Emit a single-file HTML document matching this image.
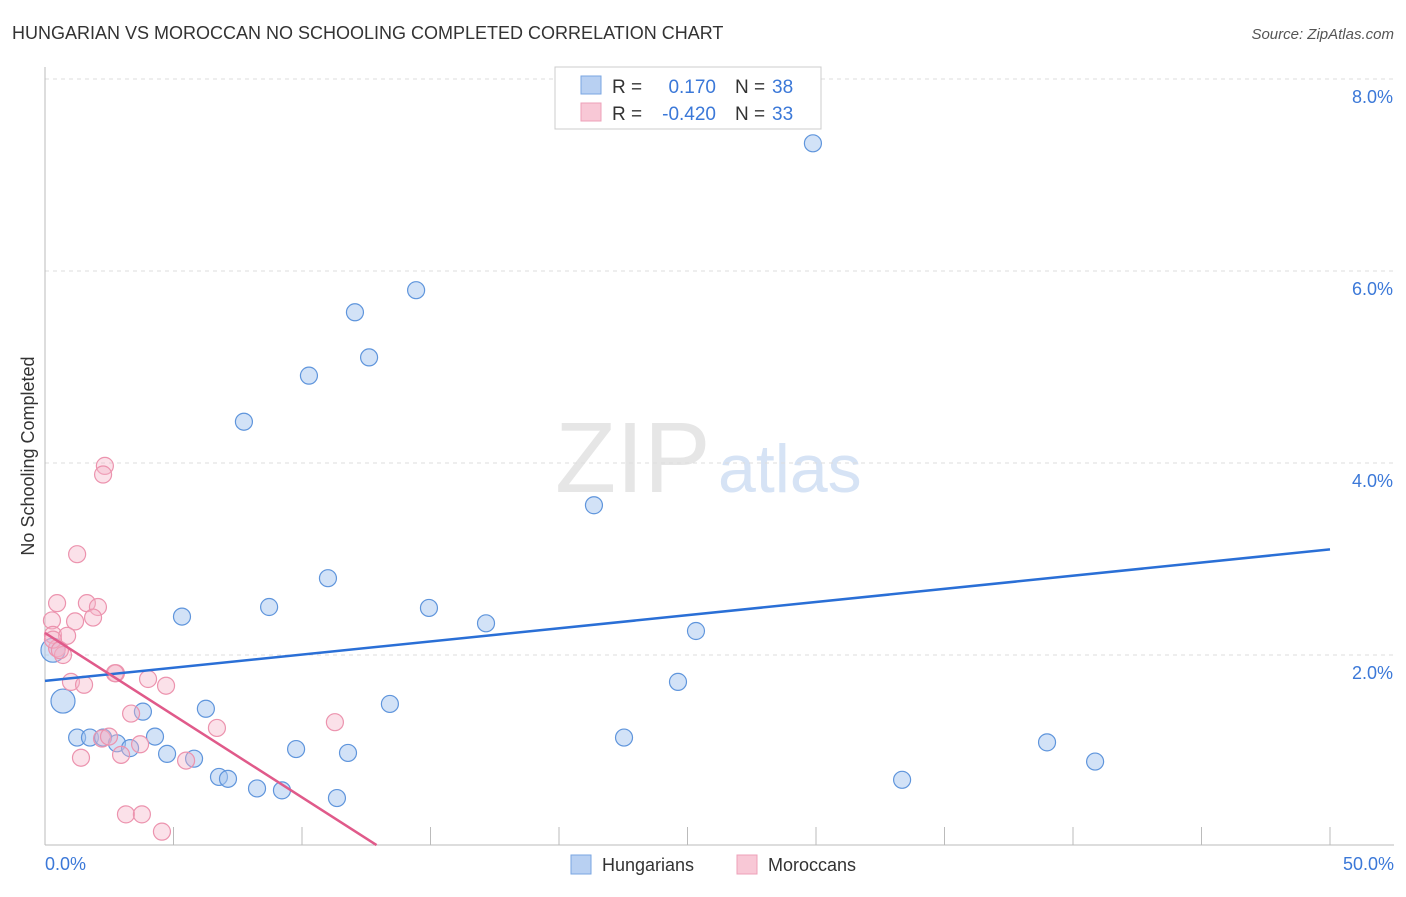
<!DOCTYPE html>
<html><head><meta charset="utf-8"><style>
body{margin:0;background:#fff;font-family:"Liberation Sans",sans-serif}
svg text{font-family:"Liberation Sans",sans-serif}
</style></head><body>
<svg width="1406" height="892" viewBox="0 0 1406 892">
<text x="12" y="39" font-size="18" fill="#333">HUNGARIAN VS MOROCCAN NO SCHOOLING COMPLETED CORRELATION CHART</text>
<text x="1394" y="39" font-size="15" fill="#555" font-style="italic" text-anchor="end">Source: ZipAtlas.com</text>
<text x="555" y="492" font-size="100" fill="#e6e6e6" font-family="Liberation Serif">ZIP</text>
<text x="718" y="492" font-size="68" fill="#d6e3f5">atlas</text>
<g id="grid"></g>
<line x1="45" y1="67" x2="45" y2="845" stroke="#bbb"/>
<line x1="45" y1="845" x2="1394" y2="845" stroke="#bbb"/>
<g id="ticks"></g>
<g id="pts"></g>
<g id="lines"></g>
<text transform="translate(34,456) rotate(-90)" font-size="18" fill="#333" text-anchor="middle">No Schooling Completed</text>
<text x="45" y="870" font-size="18" fill="#3b78d8">0.0%</text>
<text x="1394" y="870" font-size="18" fill="#3b78d8" text-anchor="end">50.0%</text>
<g>
<rect x="555" y="67" width="266" height="62" fill="#fff" stroke="#ccc"/>
<rect x="581" y="76" width="20" height="18" fill="#b8d0f2" stroke="#7aa6e2"/>
<rect x="581" y="103" width="20" height="18" fill="#f8c8d6" stroke="#eea0b8"/>
<text x="612" y="93" font-size="19" fill="#333">R = </text><text x="716" y="93" font-size="19" fill="#3b78d8" text-anchor="end">0.170</text>
<text x="735" y="93" font-size="19" fill="#333">N = </text><text x="772" y="93" font-size="19" fill="#3b78d8">38</text>
<text x="612" y="120" font-size="19" fill="#333">R = </text><text x="716" y="120" font-size="19" fill="#3b78d8" text-anchor="end">-0.420</text>
<text x="735" y="120" font-size="19" fill="#333">N = </text><text x="772" y="120" font-size="19" fill="#3b78d8">33</text>
</g>
<g><rect x="571" y="855" width="20" height="19" fill="#b8d0f2" stroke="#7aa6e2"/><text x="602" y="871" font-size="18" fill="#333">Hungarians</text></g>
<g><rect x="737" y="855" width="20" height="19" fill="#f8c8d6" stroke="#eea0b8"/><text x="768" y="871" font-size="18" fill="#333">Moroccans</text></g>
</svg>
<script>
const yTicks=[2,4,6,8];
const yTickLabels=["2.0%","4.0%","6.0%","8.0%"];
const xTicks=[0,5,10,15,20,25,30,35,40,45,50];
const blueX=[29.88,14.44,12.06,12.61,10.27,7.74,21.36,11.01,8.72,14.94,5.33,17.16,25.33,0.31,0.70,24.63,13.42,6.26,3.81,1.25,1.75,2.26,2.80,3.31,4.28,4.75,5.80,9.77,11.79,22.53,38.99,40.86,6.77,7.12,8.25,9.22,11.36,33.35];
const blueY=[7.33,5.80,5.57,5.10,4.91,4.43,3.56,2.80,2.50,2.49,2.40,2.33,2.25,2.05,1.52,1.72,1.49,1.44,1.41,1.14,1.14,1.14,1.08,1.03,1.15,0.97,0.92,1.02,0.98,1.14,1.09,0.89,0.73,0.71,0.61,0.59,0.51,0.70];
const blueBig=[13,14];
const pinkX=[2.33,2.26,1.25,0.47,1.63,2.06,0.27,1.17,1.87,0.31,0.86,0.47,0.70,2.76,4.01,4.71,1.01,1.52,3.35,6.69,11.28,1.40,2.22,2.49,3.70,2.96,5.49,3.15,3.77,4.55,0.31,0.58,2.72];
const pinkY=[3.97,3.88,3.05,2.54,2.54,2.50,2.36,2.35,2.39,2.21,2.20,2.07,2.00,1.81,1.75,1.68,1.72,1.69,1.39,1.24,1.30,0.93,1.13,1.15,1.07,0.96,0.90,0.34,0.34,0.16,2.16,2.05,1.81];
const blueLine=[[0,1.73],[50,3.10]];
const pinkLine=[[0,2.23],[12.9,0.02]];
const NS="http://www.w3.org/2000/svg";
const sx=v=>45+v*25.7, sy=v=>847-v*96;
function mk(tag,at,parent){const e=document.createElementNS(NS,tag);for(const k in at)e.setAttribute(k,at[k]);document.getElementById(parent).appendChild(e);return e;}
yTicks.forEach((t,i)=>{
 const l=mk('line',{x1:45,x2:1394,y1:sy(t),y2:sy(t),stroke:'#ddd','stroke-dasharray':'4,4'},'grid');
 
 
 const tx=mk('text',{x:1393,y:sy(t)+24,'font-size':18,fill:'#3b78d8','text-anchor':'end'},'grid');tx.textContent=yTickLabels[i];
 
 
});
xTicks.forEach(t=>{
 const l=mk('line',{x1:sx(t),x2:sx(t),y1:827,y2:845,stroke:'#bbb'},'ticks');
 
 
});
blueX.forEach((x,i)=>{
 const c=mk('circle',{cx:sx(x),cy:sy(blueY[i]),r:blueBig.includes(i)?12:8.5,fill:'rgba(165,198,240,0.5)',stroke:'#5f95dc','stroke-width':1.2},'pts');
 
 
});
pinkX.forEach((x,i)=>{
 const c=mk('circle',{cx:sx(x),cy:sy(pinkY[i]),r:8.5,fill:'rgba(246,180,200,0.4)',stroke:'#ec93ae','stroke-width':1.2},'pts');
 
 
});
const bl=mk('line',{x1:sx(blueLine[0][0]),y1:sy(blueLine[0][1]),x2:sx(blueLine[1][0]),y2:sy(blueLine[1][1]),stroke:'#2a6fd6','stroke-width':2.5},'lines');


const pl=mk('line',{x1:sx(pinkLine[0][0]),y1:sy(pinkLine[0][1]),x2:sx(pinkLine[1][0]),y2:sy(pinkLine[1][1]),stroke:'#e05a8a','stroke-width':2.5},'lines');


</script>
</body></html>
